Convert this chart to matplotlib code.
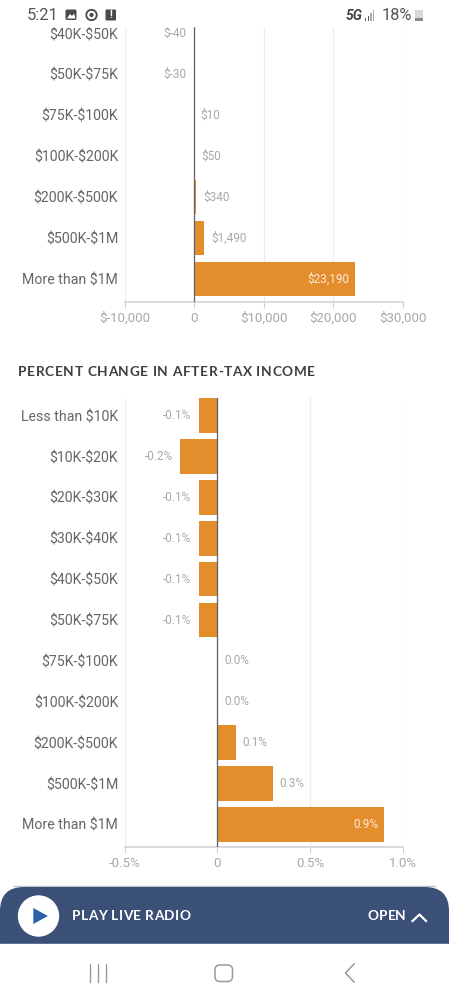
"""Recreate the phone screenshot of the two tax-change bar charts."""

import matplotlib

matplotlib.use("Agg")
import matplotlib.pyplot as plt
from matplotlib.patches import Circle, FancyBboxPatch, Polygon, Rectangle

W, H = 449, 1000
PITCH = 40.88

TOP_CATS = ["$40K-$50K", "$50K-$75K", "$75K-$100K", "$100K-$200K",
            "$200K-$500K", "$500K-$1M", "More than $1M"]
TOP_VALUES = [-40, -30, 10, 50, 340, 1490, 23190]
TOP_LABELS = ["$-40", "$-30", "$10", "$50", "$340", "$1,490", "$23,190"]
TOP_TICKS = [-10000, 0, 10000, 20000, 30000]
TOP_TICKLABELS = ["$-10,000", "0", "$10,000", "$20,000", "$30,000"]

BOTTOM_TITLE = "PERCENT CHANGE IN AFTER-TAX INCOME"
BOTTOM_CATS = ["Less than $10K", "$10K-$20K", "$20K-$30K", "$30K-$40K",
               "$40K-$50K", "$50K-$75K", "$75K-$100K", "$100K-$200K",
               "$200K-$500K", "$500K-$1M", "More than $1M"]
BOTTOM_VALUES = [-0.1, -0.2, -0.1, -0.1, -0.1, -0.1, 0.0, 0.0, 0.1, 0.3, 0.9]
BOTTOM_LABELS = ["-0.1%", "-0.2%", "-0.1%", "-0.1%", "-0.1%", "-0.1%",
                 "0.0%", "0.0%", "0.1%", "0.3%", "0.9%"]
BOTTOM_TICKS = [-0.5, 0, 0.5, 1.0]
BOTTOM_TICKLABELS = ["-0.5%", "0", "0.5%", "1.0%"]

ORANGE = "#E48D2D"
LABEL_GRAY = "#666666"
VALUE_GRAY = "#A8A8A8"
GRID = "#EDEDED"
AXIS = "#CFCFD4"
ZERO = "#5F6468"
BANNER = "#3A5077"
NAV = "#9A9A9A"

plt.rcParams["font.family"] = ["Roboto", "DejaVu Sans"]
plt.rcParams["text.parse_math"] = False


def px_axes(fig, left, top, right, bottom):
    return fig.add_axes([left / W, 1 - bottom / H,
                         (right - left) / W, (bottom - top) / H])


def draw_bars(ax, cats, values, labels, ticks, ticklabels, xlim, ylim):
    rows = list(range(len(cats)))
    ax.set_xlim(*xlim)
    ax.set_ylim(*ylim)
    ax.set_axisbelow(True)
    ax.xaxis.grid(True, color=GRID, linewidth=0.9)
    ax.barh(rows, values, height=34.5 / PITCH, color=ORANGE, zorder=2)
    ax.axvline(0, color=ZERO, linewidth=0.9, zorder=3)

    for row, val, lab in zip(rows, values, labels):
        if row == rows[-1]:
            ax.annotate(lab, (val, row), xytext=(-4.5, 0),
                        textcoords="offset points", ha="right", va="center",
                        color="#FBEBD8", fontsize=8.5)
        elif val < 0:
            ax.annotate(lab, (val, row), xytext=(-5.2, 0),
                        textcoords="offset points", ha="right", va="center",
                        color=VALUE_GRAY, fontsize=8.5)
        else:
            ax.annotate(lab, (val, row), xytext=(4.8, 0),
                        textcoords="offset points", ha="left", va="center",
                        color=VALUE_GRAY, fontsize=8.5)

    ax.set_yticks(rows)
    ax.set_yticklabels(cats, color=LABEL_GRAY, fontsize=10.2)
    ax.tick_params(axis="y", length=0, pad=4.5)
    ax.set_xticks(ticks)
    ax.set_xticklabels(ticklabels, color=VALUE_GRAY, fontsize=9.5)
    ax.tick_params(axis="x", length=4, width=0.8, color=AXIS, pad=3)
    for side in ("top", "right", "left"):
        ax.spines[side].set_visible(False)
    ax.spines["bottom"].set_color(AXIS)
    ax.spines["bottom"].set_linewidth(1.1)


def tracked_text(ov, x, y, s, width, **kw):
    """Lay a string out glyph by glyph so it spans `width` pixels."""
    fig = ov.figure
    rend = fig.canvas.get_renderer()
    probe = ov.text(0, 0, s, **kw)
    natural = probe.get_window_extent(rend).width
    probe.remove()
    gap = (width - natural) / max(len(s) - 1, 1)
    for i, ch in enumerate(s):
        probe = ov.text(0, 0, s[:i] + "|", **kw)
        adv = probe.get_window_extent(rend).width
        probe.remove()
        probe = ov.text(0, 0, "|", **kw)
        adv -= probe.get_window_extent(rend).width
        probe.remove()
        ov.text(x + adv + gap * i, y, ch, va="center", ha="left", **kw)


def draw_chrome(fig):
    ov = fig.add_axes([0, 0, 1, 1], zorder=10)
    ov.set_xlim(0, W)
    ov.set_ylim(H, 0)
    ov.axis("off")
    ov.patch.set_alpha(0)

    # status bar
    ov.add_patch(Rectangle((0, 0), W, 26, color="white", zorder=1))
    ov.text(27, 15.5, "5:21", color="#555555", fontsize=11.8, va="center", zorder=2)
    ov.add_patch(FancyBboxPatch((65.5, 9.5), 11, 10.5, boxstyle="round,pad=0,rounding_size=1.5",
                                fc="#4A4A4A", ec="none", zorder=2))
    ov.add_patch(Polygon([[67, 18.5], [70, 14], [72, 16], [74, 13.5], [75.5, 18.5]],
                         fc="white", ec="none", zorder=3))
    ov.add_patch(Circle((91.5, 15), 5.2, fc="none", ec="#4A4A4A", lw=1.3, zorder=2))
    ov.add_patch(Circle((91.5, 15), 2.1, fc="#4A4A4A", ec="none", zorder=2))
    ov.add_patch(FancyBboxPatch((105.5, 9.5), 10.5, 11, boxstyle="round,pad=0,rounding_size=1",
                                fc="#4A4A4A", ec="none", zorder=2))
    ov.text(110.7, 15, "!", color="white", fontsize=7, fontweight="bold",
            ha="center", va="center", zorder=3)
    ov.text(346, 15.5, "5G", color="#444444", fontsize=10, fontweight="bold",
            style="italic", va="center", zorder=2)
    for i, bar_h in enumerate([3, 5, 8, 11]):
        ov.add_patch(Rectangle((365 + i * 2.6, 20.5 - bar_h), 1.4, bar_h,
                               color="#555555" if i < 2 else "#AAAAAA", lw=0, zorder=2))
    ov.text(382, 15.5, "18%", color="#555555", fontsize=11.8, va="center", zorder=2)
    ov.add_patch(Rectangle((414.5, 10), 8.5, 11, color="#D8D8D8", lw=0, zorder=2))
    ov.add_patch(Rectangle((414.5, 17.5), 8.5, 3.5, color="#8C8C8C", lw=0, zorder=3))

    # section title
    tracked_text(ov, 18, 372, BOTTOM_TITLE, 297, color="#3F3F3F", fontsize=9.8,
                 fontweight="bold", family=["Lato", "DejaVu Sans"], zorder=2)

    # radio banner
    ov.plot([14, W - 14], [886.4, 886.4], color="#BFC3C9", lw=1.0, zorder=1)
    ov.add_patch(FancyBboxPatch((0, 887), W, 90, boxstyle="round,pad=0,rounding_size=24",
                                fc=BANNER, ec="none", zorder=2))
    ov.add_patch(Rectangle((0, 944), W, 56, color="white", zorder=3))
    ov.add_patch(Circle((38.5, 916), 20.7, fc="white", ec="none", zorder=4))
    ov.add_patch(Polygon([[33.3, 908], [33.3, 924], [48, 916]],
                         fc="#2A63A8", ec="none", zorder=5))
    tracked_text(ov, 72, 916, "PLAY LIVE RADIO", 118, color="white", fontsize=9.8,
                 fontweight="bold", family=["Lato", "DejaVu Sans"], zorder=4)
    tracked_text(ov, 368, 916, "OPEN", 38, color="white", fontsize=9.8,
                 fontweight="bold", family=["Lato", "DejaVu Sans"], zorder=4)
    ov.plot([412.5, 419.5, 426], [921, 914.5, 921], color="white", lw=1.6, zorder=4)

    # nav bar
    for x in (89.5, 98, 106):
        ov.plot([x, x], [964, 982], color=NAV, lw=1.0, zorder=4)
    ov.add_patch(FancyBboxPatch((215, 965), 17.5, 16.5, boxstyle="round,pad=0,rounding_size=5",
                                fc="none", ec=NAV, lw=1.1, zorder=4))
    ov.plot([354, 345.5, 354], [964, 973, 982], color=NAV, lw=1.1, zorder=4)


def main():
    fig = plt.figure(figsize=(W / 100, H / 100), dpi=100, facecolor="white")

    ax_top = px_axes(fig, 124.5, 26, 402.7, 302)
    draw_bars(ax_top, TOP_CATS, TOP_VALUES, TOP_LABELS, TOP_TICKS, TOP_TICKLABELS,
              xlim=(-10000, 30000),
              ylim=(6 + 23.2 / PITCH, -7.5 / PITCH))

    ax_bot = px_axes(fig, 124.5, 398, 402.7, 847)
    draw_bars(ax_bot, BOTTOM_CATS, BOTTOM_VALUES, BOTTOM_LABELS, BOTTOM_TICKS,
              BOTTOM_TICKLABELS, xlim=(-0.5, 1.0),
              ylim=(10 + 22.5 / PITCH, -17.7 / PITCH))

    draw_chrome(fig)
    fig.savefig("out.png", dpi=100)
    plt.close(fig)


if __name__ == "__main__":
    main()
